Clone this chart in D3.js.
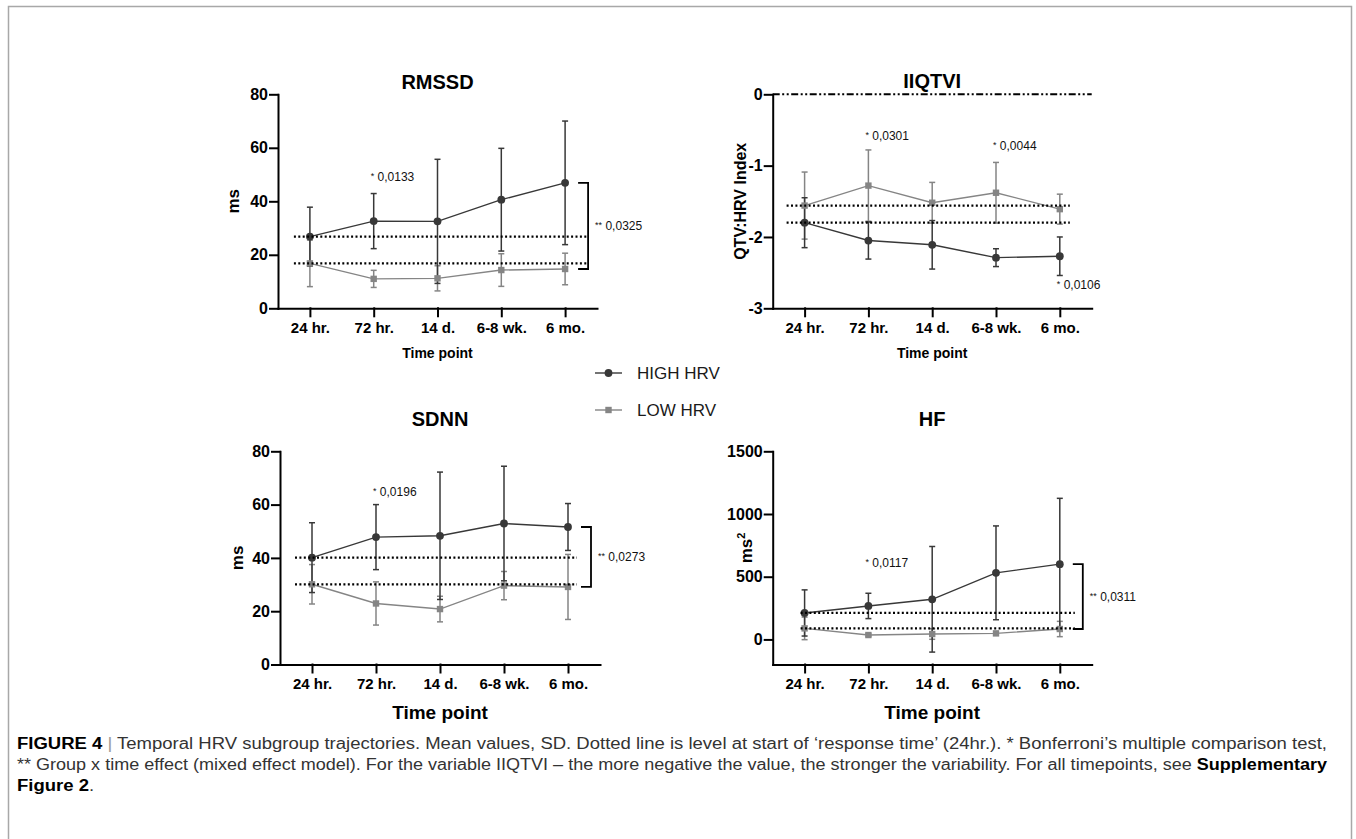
<!DOCTYPE html>
<html>
<head>
<meta charset="utf-8">
<script src="https://cdn.jsdelivr.net/npm/d3@7"></script>
<style>
  body { margin: 0; background: #fff; }
</style>
</head>
<body>
<div id="chart-area"></div>
<script>
// values
const timepoints = ["24 hr.", "72 hr.", "14 d.", "6-8 wk.", "6 mo."];

const rmssdHigh = [26.8, 32.6, 32.5, 40.6, 46.9];
const rmssdHighSD = [11.0, 10.3, 23.2, 19.2, 23.1];
const rmssdLow = [16.8, 11.0, 11.2, 14.3, 14.7];
const rmssdLowSD = [8.7, 3.2, 4.7, 6.1, 5.9];
const rmssdTicks = [0, 20, 40, 60, 80];
const rmssdStars = [["72 hr.", 49.2, "0,0133"]];

const iiqtviHigh = [-1.80, -2.05, -2.11, -2.29, -2.27];
const iiqtviHighSD = [0.35, 0.26, 0.34, 0.125, 0.27];
const iiqtviLow = [-1.56, -1.28, -1.52, -1.38, -1.61];
const iiqtviLowSD = [0.47, 0.50, 0.285, 0.425, 0.21];
const iiqtviTicks = [0, -1, -2, -3];
const iiqtviStars = [["72 hr.", -0.58, "0,0301"], ["6-8 wk.", -0.725, "0,0044"], ["6 mo.", -2.67, "0,0106"]];

const sdnnHigh = [40.1, 47.8, 48.3, 52.9, 51.6];
const sdnnHighSD = [13.1, 12.2, 23.9, 21.5, 8.8];
const sdnnLow = [30.1, 22.9, 20.8, 29.6, 29.1];
const sdnnLowSD = [7.4, 8.1, 4.8, 5.3, 12.2];
const sdnnTicks = [0, 20, 40, 60, 80];
const sdnnStars = [["72 hr.", 64.9, "0,0196"]];

const hfHigh = [211, 267, 320, 531, 600];
const hfHighSD = [184, 101, 421, 374, 525];
const hfLow = [88, 35, 43, 48, 83];
const hfLowSD = [90, 10, 42, 15, 61];
const hfTicks = [0, 500, 1000, 1500];
const hfStars = [["72 hr.", 611, "0,0117"]];

const legendNames = ["HIGH HRV", "LOW HRV"];

const FONT = "'Liberation Sans', Arial, Helvetica, sans-serif";
const HIGH_COLOR = "#383838";
const LOW_COLOR = "#858585";

const panels = [
  {title: "RMSSD", yLabel: "ms", high: rmssdHigh, highSD: rmssdHighSD, low: rmssdLow, lowSD: rmssdLowSD,
   domain: [0, 80], ticks: rmssdTicks, stars: rmssdStars, group: "0,0325",
   x0: 278, x1: 597, yTop: 94.3, yBottom: 308.3, titleY: 89, yLabelX: 239,
   xTitleY: 358, xTitleSize: 14, ref: [-16, 23]},
  {title: "IIQTVI", yLabel: "QTV:HRV Index", high: iiqtviHigh, highSD: iiqtviHighSD, low: iiqtviLow, lowSD: iiqtviLowSD,
   domain: [-3, 0], ticks: iiqtviTicks, stars: iiqtviStars, group: null, zeroLine: true,
   x0: 772.7, x1: 1091.7, yTop: 94.3, yBottom: 308.3, titleY: 88, yLabelX: 746,
   xTitleY: 358, xTitleSize: 14, ref: [-18, 10]},
  {title: "SDNN", yLabel: "ms", high: sdnnHigh, highSD: sdnnHighSD, low: sdnnLow, lowSD: sdnnLowSD,
   domain: [0, 80], ticks: sdnnTicks, stars: sdnnStars, group: "0,0273",
   x0: 280, x1: 600, yTop: 451.3, yBottom: 664.5, titleY: 426, yLabelX: 243,
   xTitleY: 719, xTitleSize: 19, ref: [-17, 9]},
  {title: "HF", yLabel: "ms", yLabelSup: "2", yLabelMid: 548, high: hfHigh, highSD: hfHighSD, low: hfLow, lowSD: hfLowSD,
   domain: [-200, 1500], ticks: hfTicks, stars: hfStars, group: "0,0311",
   x0: 772.7, x1: 1091.7, yTop: 451.3, yBottom: 664.5, titleY: 426, yLabelX: 752,
   xTitleY: 719, xTitleSize: 19, ref: [-4, 15]}
];

const svg = d3.select("#chart-area")
  .append("svg")
  .attr("width", 1356)
  .attr("height", 839)
  .style("font-family", FONT);

// frame around the figure
svg.append("path")
  .attr("d", "M8.5,845V6.5H1351.5V845")
  .attr("fill", "none")
  .attr("stroke", "#a8a8a8")
  .attr("stroke-width", 1.5);

function drawPanel(p) {
  const g = svg.append("g");
  const x = d3.scalePoint().domain(timepoints).range([p.x0, p.x1]).padding(0.5);
  const y = d3.scaleLinear().domain(p.domain).range([p.yBottom, p.yTop]);

  const yAxis = g.append("g")
    .attr("transform", `translate(${p.x0},0)`)
    .call(d3.axisLeft(y).tickValues(p.ticks).tickSize(8).tickSizeOuter(0).tickPadding(2)
      .tickFormat(d => String(d)));
  const xAxis = g.append("g")
    .attr("transform", `translate(0,${p.yBottom})`)
    .call(d3.axisBottom(x).tickSize(8).tickSizeOuter(0).tickPadding(6));

  g.selectAll(".domain, .tick line")
    .attr("stroke", "#000")
    .attr("stroke-width", 2)
    .attr("stroke-linecap", "square");
  yAxis.selectAll("text")
    .attr("font-family", FONT).attr("font-size", 16).attr("font-weight", "bold").attr("fill", "#000");
  xAxis.selectAll("text")
    .attr("font-family", FONT).attr("font-size", 15).attr("font-weight", "bold").attr("fill", "#000");

  g.append("text")
    .attr("x", (p.x0 + p.x1) / 2)
    .attr("y", p.titleY)
    .attr("text-anchor", "middle")
    .attr("font-size", 20)
    .attr("font-weight", "bold")
    .text(p.title);

  g.append("text")
    .attr("x", (p.x0 + p.x1) / 2)
    .attr("y", p.xTitleY)
    .attr("text-anchor", "middle")
    .attr("font-size", p.xTitleSize)
    .attr("font-weight", "bold")
    .text("Time point");

  const mid = p.yLabelMid || (p.yTop + p.yBottom) / 2;
  const yl = g.append("text")
    .attr("transform", `translate(${p.yLabelX},${mid}) rotate(-90)`)
    .attr("text-anchor", "middle")
    .attr("font-size", p.yLabel.length > 4 ? 16 : 17)
    .attr("font-weight", "bold")
    .text(p.yLabel);
  if (p.yLabelSup) {
    yl.append("tspan").attr("font-size", 11).attr("dy", -7).text(p.yLabelSup);
  }

  if (p.zeroLine) {
    g.append("line")
      .attr("x1", p.x0).attr("x2", p.x1)
      .attr("y1", y(0)).attr("y2", y(0))
      .attr("stroke", "#000")
      .attr("stroke-width", 2)
      .attr("stroke-dasharray", "7,2.5,2,2.5,2,2.5");
  }

  const series = [
    {mean: p.low, sd: p.lowSD, color: LOW_COLOR, shape: "square"},
    {mean: p.high, sd: p.highSD, color: HIGH_COLOR, shape: "circle"}
  ];

  series.forEach(s => {
    const pts = timepoints.map((t, i) => ({t, m: s.mean[i], sd: s.sd[i]}));
    const eb = g.append("g").attr("stroke", s.color).attr("stroke-width", 1.5);
    eb.selectAll("line.bar").data(pts).join("line")
      .attr("x1", d => x(d.t)).attr("x2", d => x(d.t))
      .attr("y1", d => y(d.m - d.sd)).attr("y2", d => y(d.m + d.sd));
    eb.selectAll("line.capTop").data(pts).join("line")
      .attr("x1", d => x(d.t) - 3).attr("x2", d => x(d.t) + 3)
      .attr("y1", d => y(d.m + d.sd)).attr("y2", d => y(d.m + d.sd));
    eb.selectAll("line.capBot").data(pts).join("line")
      .attr("x1", d => x(d.t) - 3).attr("x2", d => x(d.t) + 3)
      .attr("y1", d => y(d.m - d.sd)).attr("y2", d => y(d.m - d.sd));
  });

  series.forEach(s => {
    const pts = timepoints.map((t, i) => ({t, m: s.mean[i]}));
    g.append("path")
      .datum(pts)
      .attr("fill", "none")
      .attr("stroke", s.color)
      .attr("stroke-width", 1.4)
      .attr("d", d3.line().x(d => x(d.t)).y(d => y(d.m)));
    if (s.shape === "circle") {
      g.selectAll(null).data(pts).join("circle")
        .attr("cx", d => x(d.t)).attr("cy", d => y(d.m)).attr("r", 3.9)
        .attr("fill", s.color);
    } else {
      g.selectAll(null).data(pts).join("rect")
        .attr("x", d => x(d.t) - 3.2).attr("y", d => y(d.m) - 3.2)
        .attr("width", 6.4).attr("height", 6.4)
        .attr("fill", s.color);
    }
  });

  // dotted baseline level at 24 hr.
  const first = x(timepoints[0]);
  const last = x(timepoints[timepoints.length - 1]);
  [p.high[0], p.low[0]].forEach(v => {
    g.append("line")
      .attr("x1", first + p.ref[0]).attr("x2", last + p.ref[1])
      .attr("y1", y(v)).attr("y2", y(v))
      .attr("stroke", "#000")
      .attr("stroke-width", 2.2)
      .attr("stroke-dasharray", "2,2.4");
  });

  // group x time bracket
  if (p.group) {
    const bx = last + 23;
    const yHi = y(p.high[p.high.length - 1]);
    const yLo = y(p.low[p.low.length - 1]);
    g.append("path")
      .attr("d", `M${bx - 10},${yHi}H${bx}V${yLo}H${bx - 10}`)
      .attr("fill", "none")
      .attr("stroke", "#000")
      .attr("stroke-width", 1.8);
    const t = g.append("text")
      .attr("x", bx + 7)
      .attr("y", (yHi + yLo) / 2 + 4)
      .attr("font-size", 12)
      .attr("fill", "#111");
    t.append("tspan").attr("font-size", 9).attr("dy", -2).text("**");
    t.append("tspan").attr("dy", 2).text(" " + p.group);
  }

  p.stars.forEach(([tp, v, label]) => {
    const t = g.append("text")
      .attr("x", x(tp) - 3)
      .attr("y", y(v) + 4)
      .attr("font-size", 12)
      .attr("fill", "#111");
    t.append("tspan").attr("font-size", 9).attr("dy", -2).text("*");
    t.append("tspan").attr("dy", 2).text(" " + label);
  });
}

panels.forEach(drawPanel);

// legend
const legend = svg.append("g").attr("transform", "translate(595,0)");
legendNames.forEach((name, i) => {
  const ly = 373 + i * 37;
  const color = i === 0 ? HIGH_COLOR : LOW_COLOR;
  legend.append("line")
    .attr("x1", 0).attr("x2", 27).attr("y1", ly).attr("y2", ly)
    .attr("stroke", color).attr("stroke-width", 1.4);
  if (i === 0) {
    legend.append("circle").attr("cx", 13.5).attr("cy", ly).attr("r", 3.9).attr("fill", color);
  } else {
    legend.append("rect").attr("x", 10.3).attr("y", ly - 3.2).attr("width", 6.4).attr("height", 6.4).attr("fill", color);
  }
  legend.append("text")
    .attr("x", 42)
    .attr("y", ly + 6)
    .attr("font-size", 17)
    .attr("fill", "#1a1a1a")
    .text(name);
});

// caption
const captionLines = [
  [["FIGURE 4", "b"], [" | ", "sep"], ["Temporal HRV subgroup trajectories. Mean values, SD. Dotted line is level at start of \u2018response time\u2019 (24hr.). * Bonferroni\u2019s multiple comparison test,", ""]],
  [["** Group x time effect (mixed effect model). For the variable IIQTVI \u2013 the more negative the value, the stronger the variability. For all timepoints, see ", ""], ["Supplementary", "b"]],
  [["Figure 2", "b"], [".", ""]]
];
const captionWidth = 1310;
let squeeze = 1;
captionLines.forEach((parts, i) => {
  const t = svg.append("text")
    .attr("x", 17)
    .attr("y", 749 + i * 21)
    .attr("font-size", 16)
    .attr("fill", "#333");
  parts.forEach(([s, kind]) => {
    const ts = t.append("tspan").text(s);
    if (kind === "b") ts.attr("font-weight", "bold").attr("fill", "#000");
    if (kind === "sep") ts.attr("fill", "#999");
  });
  const natural = t.node().getComputedTextLength();
  if (i === 0) squeeze = captionWidth / natural;
  const target = i < 2 ? captionWidth : natural * squeeze;
  t.attr("textLength", target).attr("lengthAdjust", "spacingAndGlyphs");
});
</script>
</body>
</html>
